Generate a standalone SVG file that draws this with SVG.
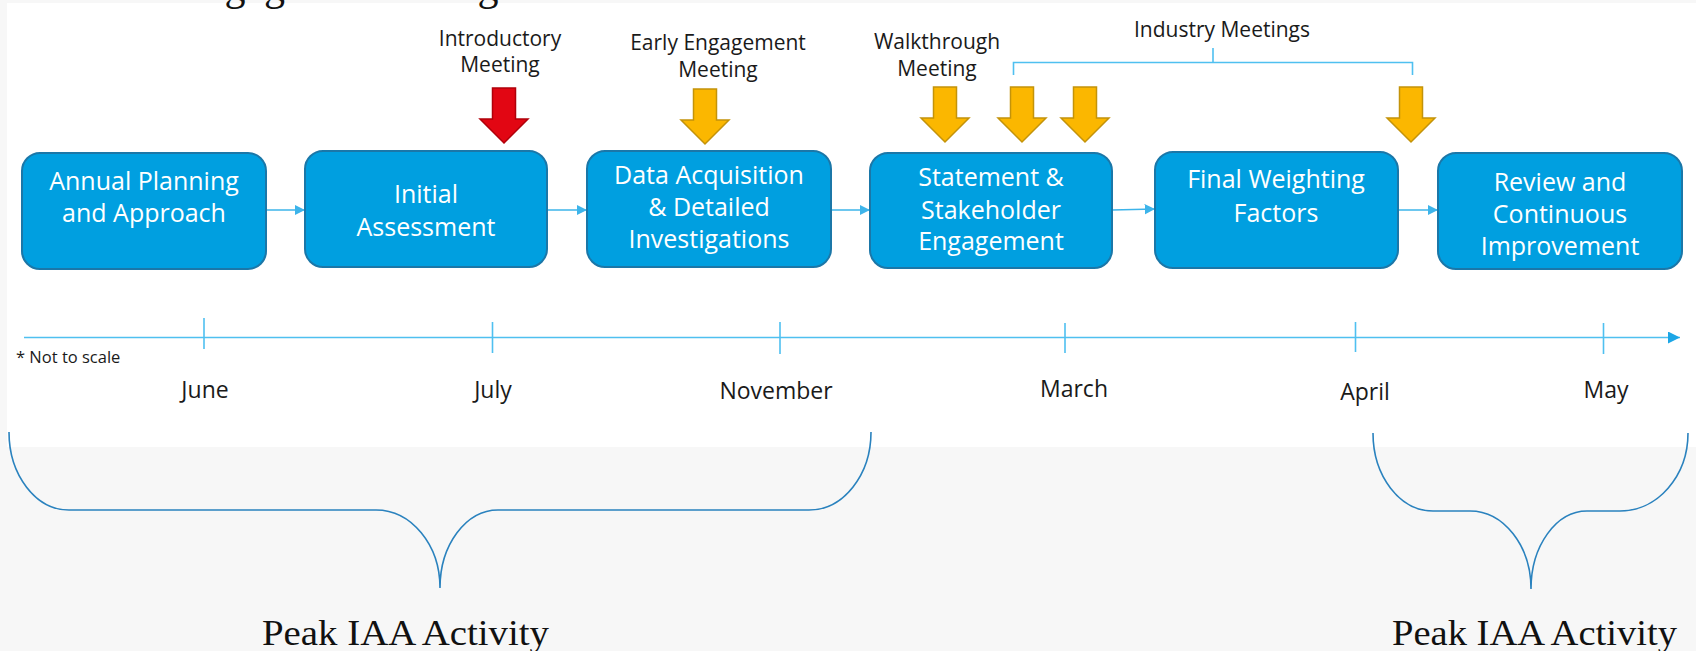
<svg xmlns="http://www.w3.org/2000/svg" width="1696" height="651" viewBox="0 0 1696 651">
<style>
.bx{fill:#009fe0;stroke:#1b77a8;stroke-width:2}
.bt{font-family:"Open Sans","Noto Sans",sans-serif;font-size:25px;fill:#ffffff;text-anchor:middle}
.lb{font-family:"Open Sans","Noto Sans",sans-serif;font-size:21px;fill:#1a1a1a;text-anchor:middle}
.mo{font-family:"Open Sans","Noto Sans",sans-serif;font-size:23px;fill:#1a1a1a;text-anchor:middle}
.cn{fill:none;stroke:#3db4ea;stroke-width:1.6}
.tk{fill:none;stroke:#4fc0f0;stroke-width:1.6}
.br{fill:none;stroke:#2a82be;stroke-width:1.6}
.pk{font-family:"Liberation Serif","DejaVu Serif",serif;font-size:36px;fill:#111111}
.ya{fill:#fbb700;stroke:#c3930a;stroke-width:1.5}
.ra{fill:#e20613;stroke:#b0000a;stroke-width:1.5}
</style>
<defs>
<marker id="ah" viewBox="0 0 10 10" refX="10" refY="5" markerWidth="6.5" markerHeight="7" markerUnits="strokeWidth" orient="auto">
<path d="M0,0 L10,5 L0,10 Z" fill="#3db4ea"/>
</marker>
<marker id="ah2" viewBox="0 0 10 10" refX="10" refY="5" markerWidth="8" markerHeight="7.5" markerUnits="strokeWidth" orient="auto">
<path d="M0,0 L10,5 L0,10 Z" fill="#1ca6e6"/>
</marker>
<path id="barrow" d="M-11.5,0 H11.5 V31 H24 L0,55 L-24,31 H-11.5 Z"/>
</defs>
<rect x="0" y="0" width="1696" height="651" fill="#f7f7f7"/>
<rect x="7" y="3" width="1689" height="444" fill="#ffffff"/>
<text x="39" y="0" font-family="Liberation Serif,serif" font-size="42" fill="#111111">Source: Engage Consulting</text>

<g id="connectors">
<line class="cn" x1="266" y1="210" x2="305" y2="210" marker-end="url(#ah)"/>
<line class="cn" x1="547" y1="210" x2="587" y2="210" marker-end="url(#ah)"/>
<line class="cn" x1="831" y1="210" x2="870" y2="210" marker-end="url(#ah)"/>
<line class="cn" x1="1112" y1="210" x2="1155" y2="209" marker-end="url(#ah)"/>
<line class="cn" x1="1398" y1="210" x2="1438" y2="210" marker-end="url(#ah)"/>
</g>

<g id="box1"><rect class="bx" x="22" y="153" width="244" height="116" rx="18"/>
<text class="bt" x="144" y="190">Annual Planning</text><text class="bt" x="144" y="222">and Approach</text></g>
<g id="box2"><rect class="bx" x="305" y="151" width="242" height="116" rx="18"/>
<text class="bt" x="426" y="203">Initial</text><text class="bt" x="426" y="236">Assessment</text></g>
<g id="box3"><rect class="bx" x="587" y="151" width="244" height="116" rx="18"/>
<text class="bt" x="709" y="184">Data Acquisition</text><text class="bt" x="709" y="216">&amp; Detailed</text><text class="bt" x="709" y="248">Investigations</text></g>
<g id="box4"><rect class="bx" x="870" y="153" width="242" height="115" rx="18"/>
<text class="bt" x="991" y="186">Statement &amp;</text><text class="bt" x="991" y="219">Stakeholder</text><text class="bt" x="991" y="250">Engagement</text></g>
<g id="box5"><rect class="bx" x="1155" y="152" width="243" height="116" rx="18"/>
<text class="bt" x="1276" y="188">Final Weighting</text><text class="bt" x="1276" y="222">Factors</text></g>
<g id="box6"><rect class="bx" x="1438" y="153" width="244" height="116" rx="18"/>
<text class="bt" x="1560" y="191">Review and</text><text class="bt" x="1560" y="223">Continuous</text><text class="bt" x="1560" y="255">Improvement</text></g>

<g id="meetings">
<use href="#barrow" class="ra" transform="translate(504,88)"/>
<use href="#barrow" class="ya" transform="translate(705,89)"/>
<use href="#barrow" class="ya" transform="translate(945,87)"/>
<use href="#barrow" class="ya" transform="translate(1022,87)"/>
<use href="#barrow" class="ya" transform="translate(1085,87)"/>
<use href="#barrow" class="ya" transform="translate(1411,87)"/>
<text class="lb" x="500" y="46">Introductory</text><text class="lb" x="500" y="72">Meeting</text>
<text class="lb" x="718" y="50">Early Engagement</text><text class="lb" x="718" y="77">Meeting</text>
<text class="lb" x="937" y="49">Walkthrough</text><text class="lb" x="937" y="76">Meeting</text>
<text class="lb" x="1222" y="37">Industry Meetings</text>
<path class="tk" d="M1013.5,75 V62.5 H1412.5 V75 M1213,62.5 V48"/>
</g>

<g id="timeline">
<line x1="24" y1="337.5" x2="1680" y2="337.5" stroke="#4fc0f0" stroke-width="1.6" marker-end="url(#ah2)"/>
<path class="tk" d="M204,318 V349 M492.5,322 V353 M780,322 V354 M1065,323 V353 M1355.5,322 V352 M1603.5,323 V354"/>
<text x="16" y="363" font-family="Open Sans,Noto Sans,sans-serif" font-size="16.5" fill="#1a1a1a">* Not to scale</text>
<text class="mo" x="205" y="398">June</text>
<text class="mo" x="493" y="398">July</text>
<text class="mo" x="776" y="399">November</text>
<text class="mo" x="1074" y="397">March</text>
<text class="mo" x="1365" y="400">April</text>
<text class="mo" x="1606" y="398">May</text>
</g>

<g id="brace-left">
<path class="br" d="M9,432 A60 78 0 0 0 69,510 H376 A64 78 0 0 1 440,588 A58 78 0 0 1 498,510 H809 A62 78 0 0 0 871,432"/>
<text class="pk" x="262" y="645" textLength="287" lengthAdjust="spacingAndGlyphs">Peak IAA Activity</text>
</g>
<g id="brace-right">
<path class="br" d="M1373,433 A60 78 0 0 0 1433,511 H1470 A61 78 0 0 1 1531,589 A56 78 0 0 1 1587,511 H1620 A68 78 0 0 0 1688,433"/>
<text class="pk" x="1392" y="645" textLength="285" lengthAdjust="spacingAndGlyphs">Peak IAA Activity</text>
</g>
</svg>
